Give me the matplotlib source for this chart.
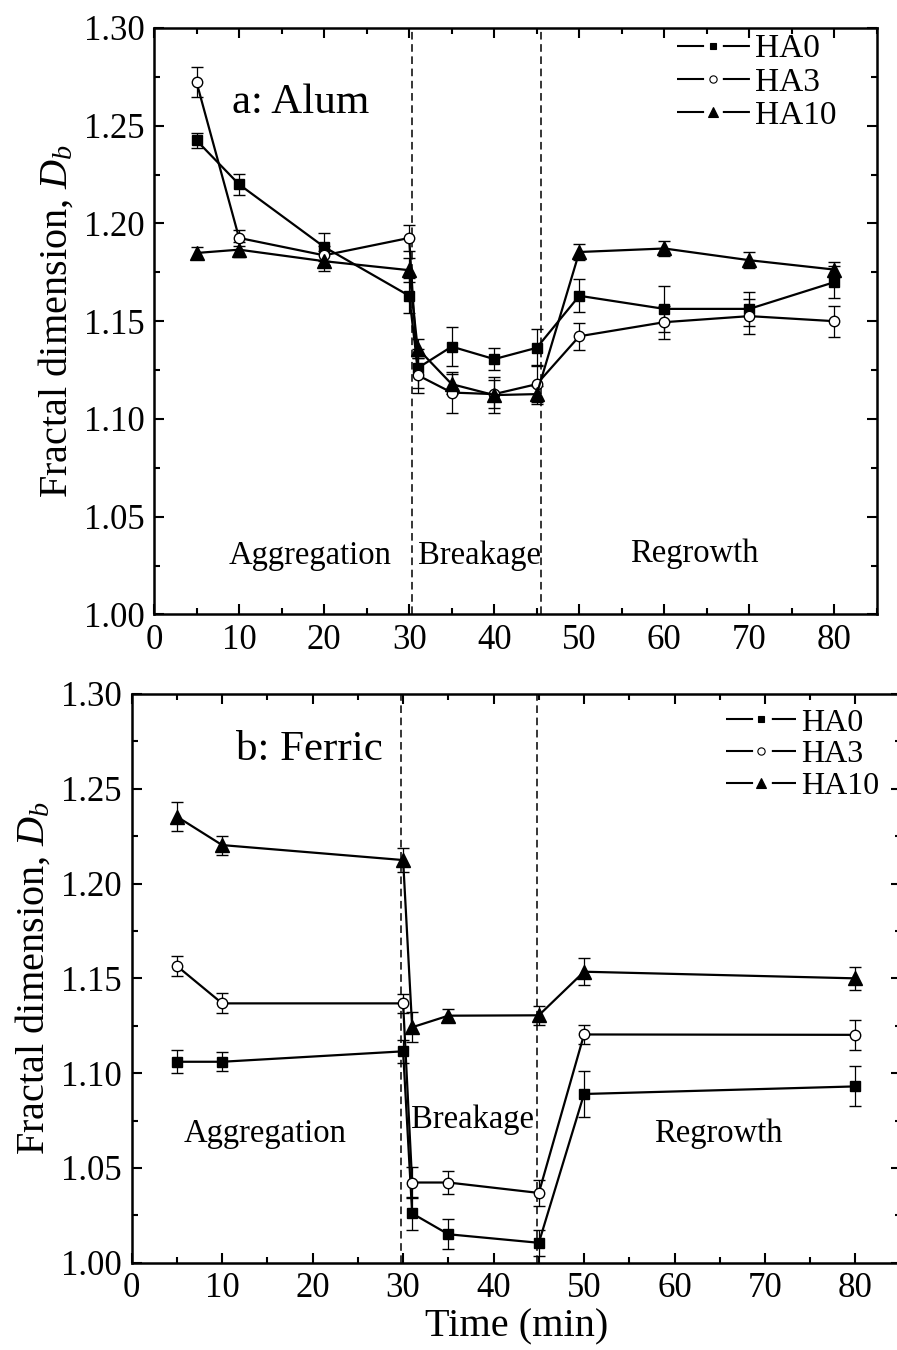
import numpy as np
import matplotlib
matplotlib.use('Agg')
import matplotlib.pyplot as plt
from matplotlib.lines import Line2D
from matplotlib.ticker import MultipleLocator, FormatStrFormatter

plt.rcParams['font.family'] = ['Liberation Serif', 'DejaVu Serif']
plt.rcParams['mathtext.fontset'] = 'custom'
plt.rcParams['mathtext.rm'] = 'Liberation Serif'
plt.rcParams['mathtext.it'] = 'Liberation Serif:italic'

# ---- data: a) alum ----
t_alum = [5, 10, 20, 30, 31, 35, 40, 45, 50, 60, 70, 80]
alum_ha0 = [1.2425, 1.220, 1.188, 1.163, 1.126, 1.137, 1.1306, 1.1364, 1.163, 1.1563, 1.1563, 1.170]
alum_ha0_err = [0.004, 0.0055, 0.007, 0.009, 0.010, 0.010, 0.0055, 0.0095, 0.0085, 0.0116, 0.0087, 0.008]
alum_ha3 = [1.2723, 1.1926, 1.1837, 1.1926, 1.1224, 1.1135, 1.1127, 1.1178, 1.1423, 1.1495, 1.1526, 1.150]
alum_ha3_err = [0.0075, 0.004, 0.005, 0.0065, 0.009, 0.0107, 0.007, 0.010, 0.007, 0.0085, 0.009, 0.008]
alum_ha10 = [1.1849, 1.1866, 1.1807, 1.1761, 1.136, 1.1178, 1.1122, 1.1127, 1.1854, 1.1872, 1.1812, 1.1764]
alum_ha10_err = [0.003, 0.004, 0.005, 0.006, 0.005, 0.005, 0.009, 0.004, 0.004, 0.004, 0.004, 0.004]

# ---- data: b) ferric ----
t_ferric = [5, 10, 30, 31, 35, 45, 50, 80]
ferric_ha0 = [1.106, 1.106, 1.1115, 1.026, 1.015, 1.0105, 1.089, 1.093]
ferric_ha0_err = [0.006, 0.005, 0.006, 0.0085, 0.008, 0.007, 0.012, 0.0105]
ferric_ha3 = [1.1565, 1.1368, 1.1368, 1.0423, 1.0423, 1.0368, 1.1204, 1.1202]
ferric_ha3_err = [0.0055, 0.0053, 0.005, 0.008, 0.006, 0.007, 0.005, 0.008]
ferric_ha10 = [1.2353, 1.2203, 1.2124, 1.1242, 1.1303, 1.1305, 1.1535, 1.150]
ferric_ha10_err = [0.0075, 0.005, 0.0065, 0.008, 0.0035, 0.005, 0.007, 0.006]

labels = ['HA0', 'HA3', 'HA10']
styles = [dict(marker='s', ms=7, mfc='k'),
          dict(marker='o', ms=7.5, mfc='white'),
          dict(marker='^', ms=10, mfc='k')]

fig = plt.figure(figsize=(8.97, 13.5), dpi=100)
ax1 = fig.add_axes([154 / 897, 1 - 614.4 / 1350, 723 / 897, 586.4 / 1350])
ax2 = fig.add_axes([131.7 / 897, 1 - 1262.7 / 1350, 769 / 897, 568.7 / 1350])


def draw_panel(ax, t, series, errs):
    for y, e, st in zip(series, errs, styles):
        ax.errorbar(t, y, yerr=e, color='k', lw=1.6, mec='k', mew=1,
                    elinewidth=0.9, capsize=4.3, capthick=0.9, **st)


def legend_handles(ms_scale=0.7):
    # line - marker - line, with a gap round the marker
    hs = []
    for lab, st in zip(labels, styles):
        s = dict(st)
        s['ms'] = st['ms'] * ms_scale
        hs.append(Line2D([], [], color='k', lw=1.5, mec='k', mew=0.8,
                         ls=(0, (13, 9, 13, 200)), label=lab, **s))
    return hs


def style_axes(ax):
    ax.set_xlim(0, 85)
    ax.set_ylim(1.00, 1.30)
    ax.xaxis.set_major_locator(MultipleLocator(10))
    ax.xaxis.set_minor_locator(MultipleLocator(5))
    ax.yaxis.set_major_locator(MultipleLocator(0.05))
    ax.yaxis.set_minor_locator(MultipleLocator(0.025))
    ax.yaxis.set_major_formatter(FormatStrFormatter('%.2f'))
    ax.tick_params(which='both', direction='in', top=True, right=True,
                   width=1.5, labelsize=25, pad=7)
    ax.tick_params(which='major', length=7)
    ax.tick_params(which='minor', length=4)
    for sp in ax.spines.values():
        sp.set_linewidth(1.8)
    ax.set_ylabel('Fractal dimension, $D_b$', fontsize=29, labelpad=6)


# panel a
draw_panel(ax1, t_alum, [alum_ha0, alum_ha3, alum_ha10],
           [alum_ha0_err, alum_ha3_err, alum_ha10_err])
for xv in (30.3, 45.5):
    ax1.axvline(xv, color='k', lw=1.1, ls=(0, (5, 3)))
ax1.text(17.2, 1.262, 'a: Alum', fontsize=31, ha='center', va='center')
ax1.text(18.3, 1.030, 'Aggregation', fontsize=23.5, ha='center', va='center')
ax1.text(38.3, 1.030, 'Breakage', fontsize=23.5, ha='center', va='center')
ax1.text(63.5, 1.031, 'Regrowth', fontsize=23.5, ha='center', va='center')
style_axes(ax1)
ax1.legend(handles=legend_handles(), loc='upper right', bbox_to_anchor=(0.944, 0.99),
           frameon=False, fontsize=24, handlelength=2.2, handletextpad=0.15,
           labelspacing=0.08, borderpad=0, borderaxespad=0)

# panel b
draw_panel(ax2, t_ferric, [ferric_ha0, ferric_ha3, ferric_ha10],
           [ferric_ha0_err, ferric_ha3_err, ferric_ha10_err])
for xv in (29.8, 44.8):
    ax2.axvline(xv, color='k', lw=1.1, ls=(0, (5, 3)))
ax2.text(19.7, 1.2704, 'b: Ferric', fontsize=31, ha='center', va='center')
ax2.text(14.7, 1.068, 'Aggregation', fontsize=23.5, ha='center', va='center')
ax2.text(37.7, 1.0752, 'Breakage', fontsize=23.5, ha='center', va='center')
ax2.text(64.8, 1.068, 'Regrowth', fontsize=23.5, ha='center', va='center')
style_axes(ax2)
ax2.set_xlabel('Time (min)', fontsize=29, labelpad=2)
ax2.legend(handles=legend_handles(), loc='upper right', bbox_to_anchor=(0.972, 0.975),
           frameon=False, fontsize=23, handlelength=2.2, handletextpad=0.15,
           labelspacing=0.08, borderpad=0, borderaxespad=0)

fig.savefig('out.png', dpi=100)
